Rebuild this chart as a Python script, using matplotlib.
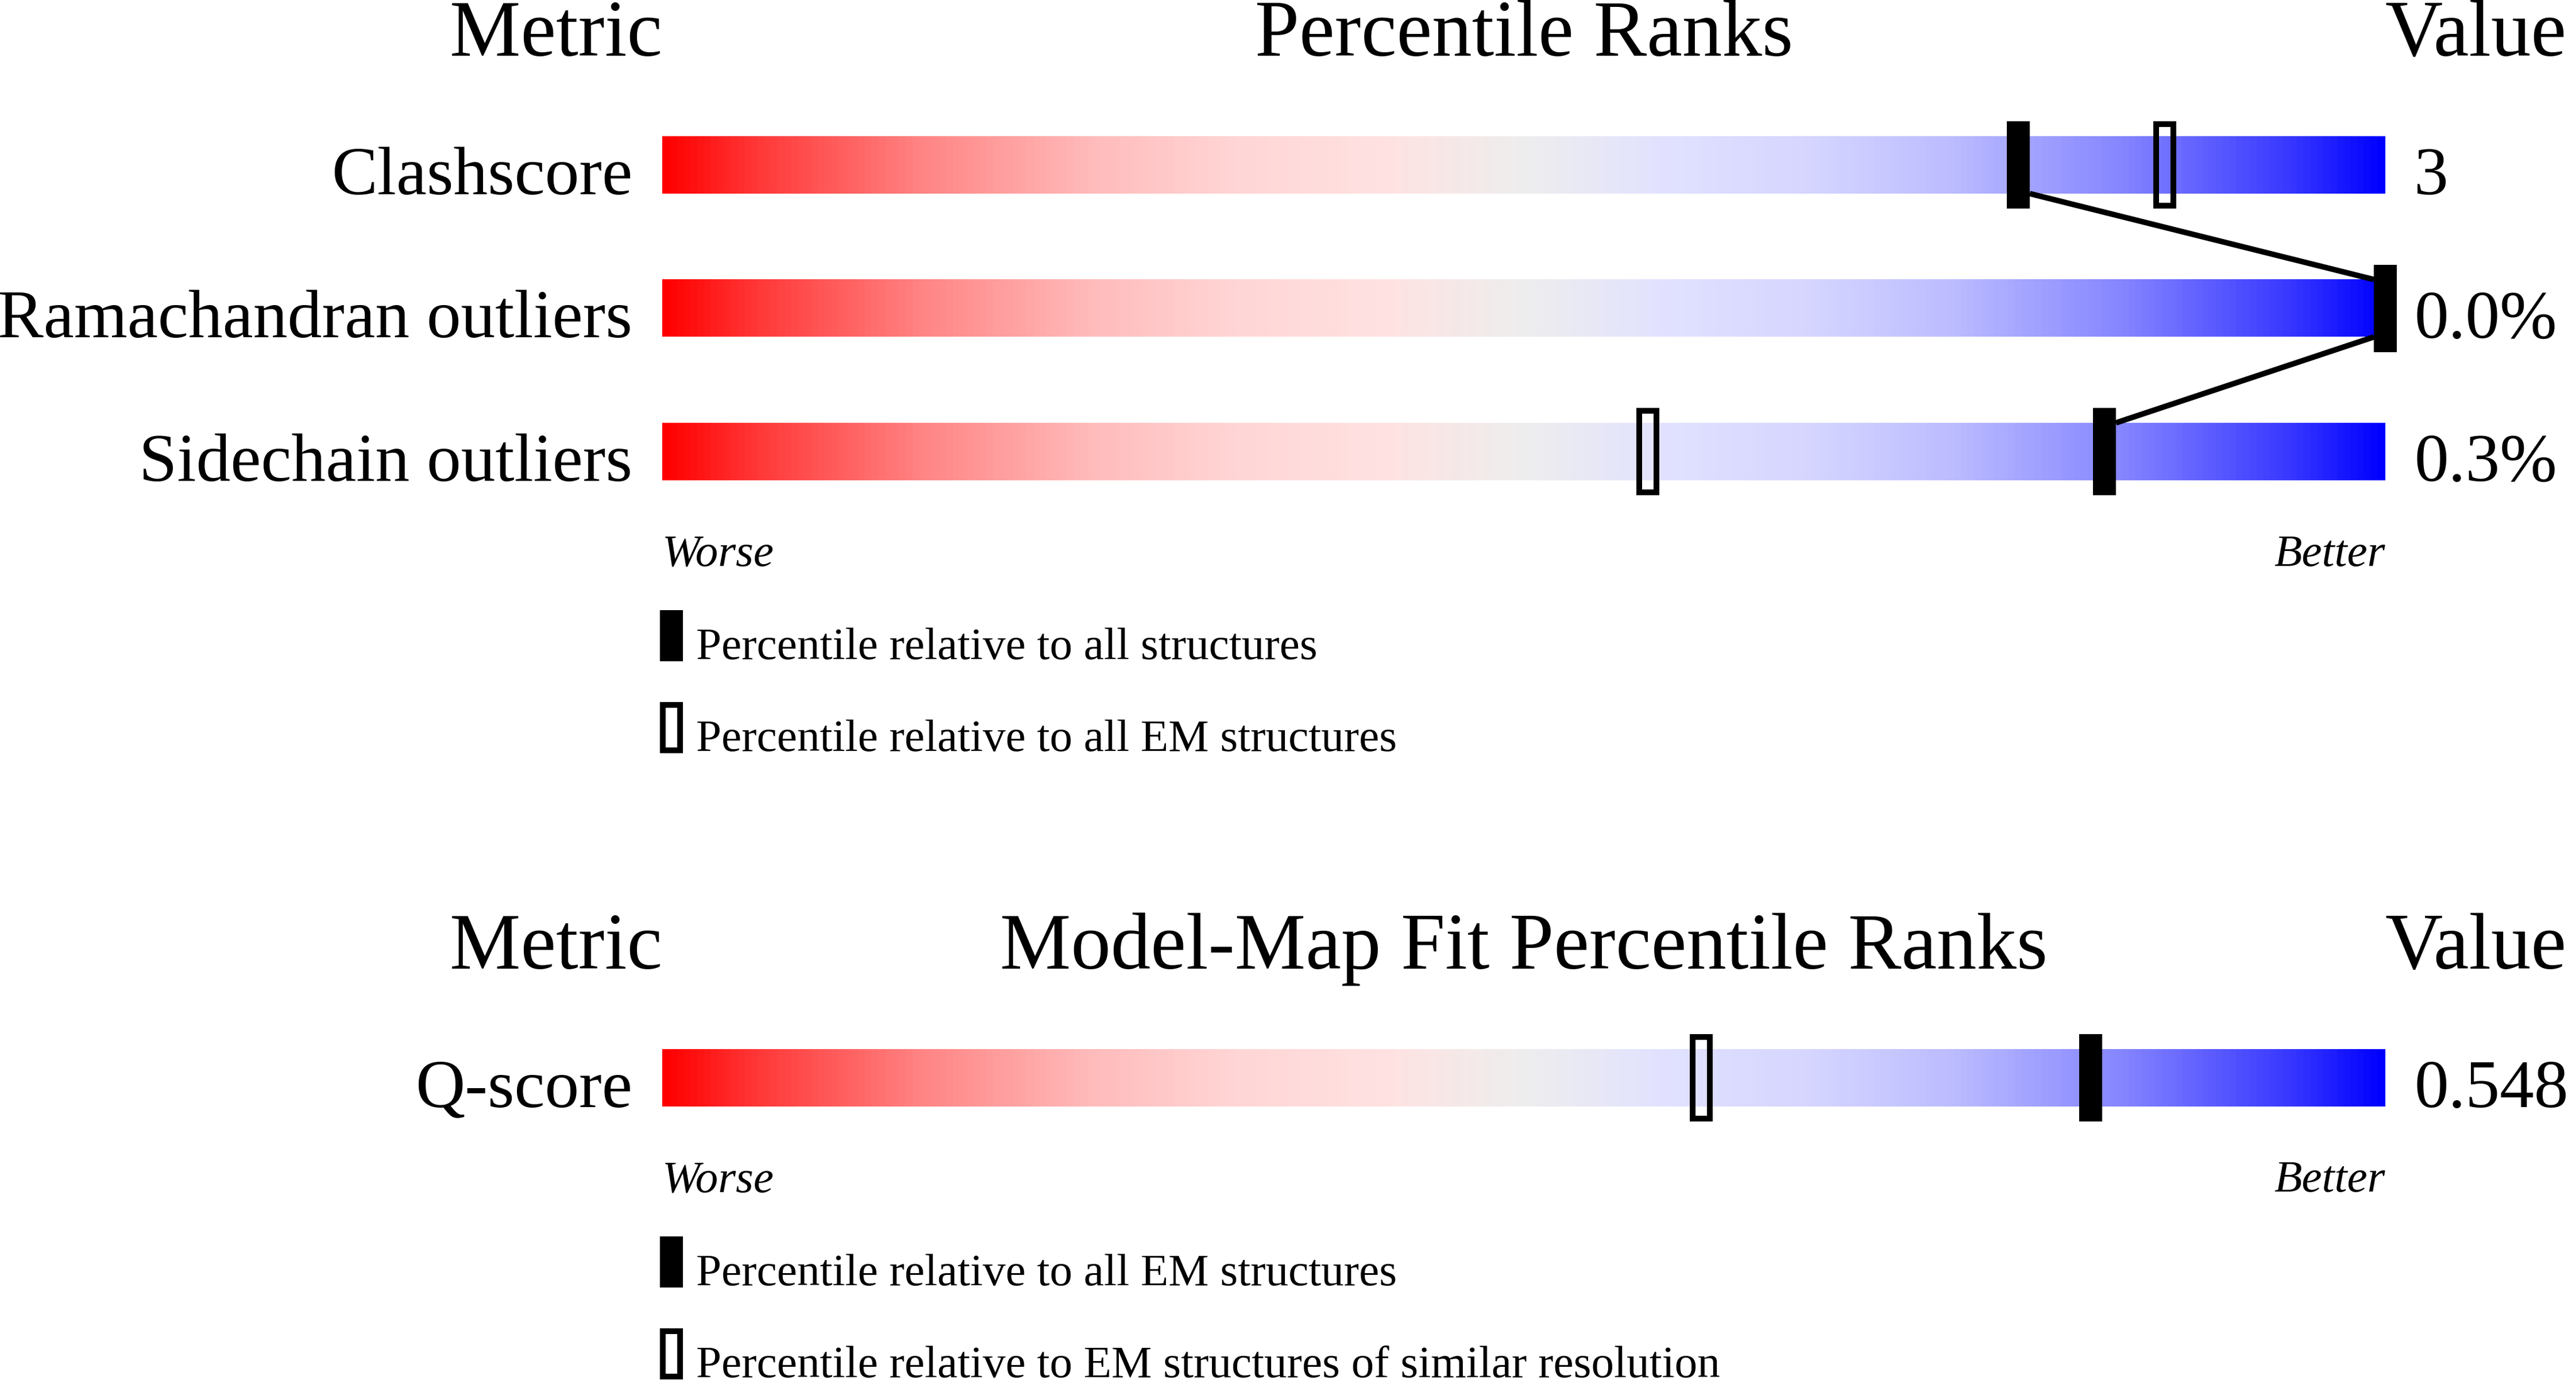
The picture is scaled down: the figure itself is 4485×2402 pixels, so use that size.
import numpy as np
import matplotlib
matplotlib.use('Agg')
import matplotlib.pyplot as plt
from matplotlib.colors import LinearSegmentedColormap
from matplotlib.patches import Rectangle

# values
geo_metrics = ['Clashscore', 'Ramachandran outliers', 'Sidechain outliers']
geo_values = ['3', '0.0%', '0.3%']
geo_pct_all = [78.7, 100, 83.7]
geo_pct_em = [87.2, None, 57.2]
geo_legend = ['Percentile relative to all structures',
              'Percentile relative to all EM structures']

fit_metrics = ['Q-score']
fit_values = ['0.548']
fit_pct_all = [82.9]
fit_pct_res = [60.3]
fit_legend = ['Percentile relative to all EM structures',
              'Percentile relative to EM structures of similar resolution']

W, H = 4485, 2402
BAR_L, BAR_R = 1153, 4153
SCALE = (BAR_R - BAR_L) / 100.0   # pixels per percentile

plt.rcParams['font.family'] = ['Liberation Serif', 'DejaVu Serif']

# gradient red -> grey -> blue
stops = [(0.0, (255, 0, 0)), (0.05, (255, 53, 53)), (0.15, (255, 133, 133)),
         (0.25, (255, 188, 188)), (0.33, (255, 213, 213)), (0.42, (255, 226, 226)),
         (0.5, (238, 238, 238)), (0.58, (226, 226, 255)), (0.67, (213, 213, 255)),
         (0.75, (188, 188, 255)), (0.85, (133, 133, 255)), (0.95, (53, 53, 255)),
         (1.0, (0, 0, 255))]
cmap = LinearSegmentedColormap.from_list(
    'pct', [(t, tuple(c / 255 for c in rgb)) for t, rgb in stops])
grad = np.linspace(0, 1, 600).reshape(1, -1)

fig = plt.figure(figsize=(W / 100, H / 100), dpi=100)
# layout axes in pixels (text) and bar axes in percentile (marks)
lay = fig.add_axes([0, 0, 1, 1])
lay.set_xlim(0, W)
lay.set_ylim(H, 0)
lay.axis('off')
ax = fig.add_axes([BAR_L / W, 0, (BAR_R - BAR_L) / W, 1])
ax.set_xlim(0, 100)
ax.set_ylim(H, 0)
ax.axis('off')

HEAD = 100
LAB = 86
SMALL = 57
BAR_H = 100
MK_H = 152
MK_W = 40 / SCALE
OPEN_W = 30 / SCALE
OPEN_LW = 7.2


def marker(x, yc, filled):
    if filled:
        ax.add_patch(Rectangle((x - MK_W / 2, yc - MK_H / 2), MK_W, MK_H,
                               facecolor='black', edgecolor='none', zorder=4,
                               clip_on=False))
    else:
        h = MK_H - 10
        ax.add_patch(Rectangle((x - OPEN_W / 2, yc - h / 2), OPEN_W, h,
                               facecolor='none', edgecolor='black', lw=OPEN_LW,
                               zorder=4, clip_on=False))


def section(top, title, metrics, values, pct_a, pct_b, legend, worse_y, leg_y):
    base = top + 97
    lay.text(BAR_L, base, 'Metric', ha='right', va='baseline', fontsize=HEAD)
    lay.text((BAR_L + BAR_R) / 2, base, title, ha='center', va='baseline', fontsize=HEAD)
    lay.text(BAR_R, base, 'Value', ha='left', va='baseline', fontsize=HEAD)

    centers = [top + 287 + 249.5 * i for i in range(len(metrics))]
    for i, yc in enumerate(centers):
        ax.imshow(grad, cmap=cmap, aspect='auto', interpolation='bilinear',
                  extent=[0, 100, yc + BAR_H / 2, yc - BAR_H / 2], zorder=1)
        lay.text(BAR_L - 52, yc + BAR_H / 2 + 1, metrics[i], ha='right',
                 va='baseline', fontsize=LAB)
        lay.text(BAR_R + 50, yc + BAR_H / 2 + 1, values[i], ha='left',
                 va='baseline', fontsize=LAB)
        marker(pct_a[i], yc, True)
        if pct_b[i] is not None:
            marker(pct_b[i], yc, False)

    # connecting lines between filled markers
    hw = MK_W / 2
    for i in range(len(centers) - 1):
        a, b = pct_a[i], pct_a[i + 1]
        if b >= a:
            x1, x2 = a + hw, b - hw
        else:
            x1, x2 = a - hw, b + hw
        ax.plot([x1, x2], [centers[i] + BAR_H / 2, centers[i + 1] - BAR_H / 2],
                color='black', lw=7, zorder=3, solid_capstyle='butt',
                clip_on=False)

    lay.text(BAR_L, worse_y, 'Worse', ha='left', va='baseline', fontsize=SMALL,
             style='italic')
    lay.text(BAR_R, worse_y, 'Better', ha='right', va='baseline', fontsize=SMALL,
             style='italic')

    for j, lbl in enumerate(legend):
        y0 = leg_y + 160 * j
        if j == 0:
            lay.add_patch(Rectangle((1149, y0), 40, 89, facecolor='black',
                                    edgecolor='none'))
        else:
            lay.add_patch(Rectangle((1154, y0 + 5), 30, 79, facecolor='none',
                                    edgecolor='black', lw=OPEN_LW))
        lay.text(1212, y0 + 85, lbl, ha='left', va='baseline', fontsize=SMALL)


section(0, 'Percentile Ranks', geo_metrics, geo_values, geo_pct_all, geo_pct_em,
        geo_legend, 985, 1062)
section(1589, 'Model-Map Fit Percentile Ranks', fit_metrics, fit_values,
        fit_pct_all, fit_pct_res, fit_legend, 2074, 2152)

fig.savefig('out.png', dpi=100, facecolor='white')
